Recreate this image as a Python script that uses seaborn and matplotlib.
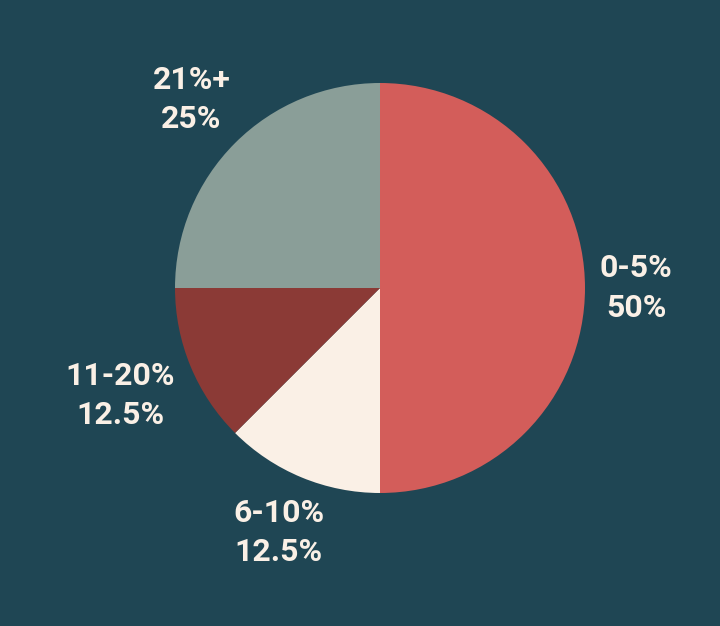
import numpy as np
import matplotlib
matplotlib.use("Agg")
import matplotlib.pyplot as plt
import seaborn as sns

categories = ["0-5%", "6-10%", "11-20%", "21%+"]
shares = [50, 12.5, 12.5, 25]
share_labels = ["50%", "12.5%", "12.5%", "25%"]

colors = ["#D35D5A", "#FAF0E6", "#8B3A36", "#8A9E98"]
label_dist = [1.25, 1.29, 1.37, 1.30]
bg = "#1F4654"
text_color = "#FAF0E6"

sns.set_theme(style="white")
plt.rcParams["font.family"] = ["Roboto", "DejaVu Sans"]

fig = plt.figure(figsize=(7.2, 6.26), dpi=100, facecolor=bg)
ax = fig.add_axes([0, 0, 1, 1])
ax.set_facecolor(bg)

wedges, _ = ax.pie(shares, colors=colors, startangle=90, counterclock=False,
                   radius=1.0, wedgeprops=dict(linewidth=0))

# labels outside each slice, centered on the mid angle
for w, cat, lab, d in zip(wedges, categories, share_labels, label_dist):
    mid = np.deg2rad((w.theta1 + w.theta2) / 2)
    ax.text(d * np.cos(mid), d * np.sin(mid), f"{cat}\n{lab}",
            ha="center", va="center", color=text_color, fontsize=23,
            fontweight="bold", linespacing=1.4)

ax.set_xlim(-380 / 205, 340 / 205)
ax.set_ylim(-338 / 205, 288 / 205)
ax.set_aspect("auto")
ax.axis("off")

fig.savefig("out.png", dpi=100, facecolor=bg)
